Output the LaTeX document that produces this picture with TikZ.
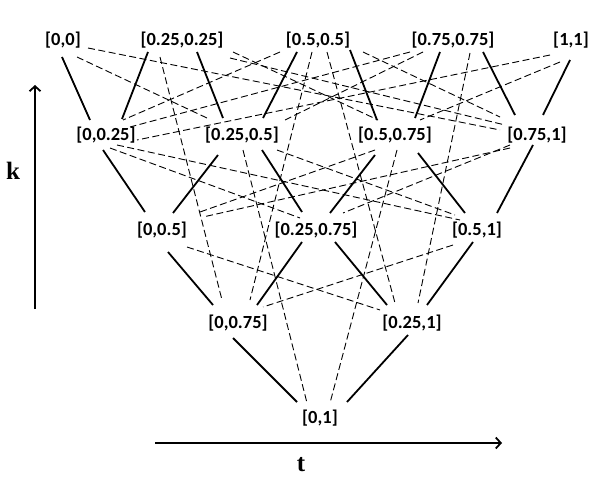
\documentclass[tikz,border=0pt]{standalone}
\usepackage{fontspec}
\setmainfont{Carlito}
\newfontfamily\serifbf{Liberation Serif}
\usetikzlibrary{arrows.meta}
\tikzset{
  lbl/.style={inner sep=0pt, font=\fontsize{18.5}{18.5}\selectfont\bfseries},
  kline/.style={line width=1.8pt},
  tline/.style={line width=0.9pt, dash pattern=on 7pt off 3.5pt},
  axis/.style={line width=1.8pt, -{Straight Barb[length=5pt,width=11pt,line width=1.8pt]}},
  axlbl/.style={font=\serifbf\fontsize{25}{25}\selectfont\bfseries}
}
\newcommand\lnk[5]{\draw[#1] ([shift={#3}]#2.center) -- ([shift={#5}]#4.center);}
\begin{document}
\begin{tikzpicture}[x=1pt,y=-1pt]
\useasboundingbox (0,0) rectangle (612,476);
% nodes
\node[lbl] (A) at (63,40) {[0,0]};
\node[lbl] (B) at (182,40) {[0.25,0.25]};
\node[lbl] (C) at (318,40) {[0.5,0.5]};
\node[lbl] (D) at (453,40) {[0.75,0.75]};
\node[lbl] (E) at (571,40) {[1,1]};
\node[lbl] (F) at (106,135) {[0,0.25]};
\node[lbl] (G) at (242,135) {[0.25,0.5]};
\node[lbl] (H) at (395,135) {[0.5,0.75]};
\node[lbl] (I) at (537,135) {[0.75,1]};
\node[lbl] (J) at (162,230) {[0,0.5]};
\node[lbl] (K) at (316,230) {[0.25,0.75]};
\node[lbl] (L) at (477,230) {[0.5,1]};
\node[lbl] (M) at (238,323) {[0,0.75]};
\node[lbl] (N) at (412,323) {[0.25,1]};
\node[lbl] (O) at (320,418) {[0,1]};
% solid (knowledge order)
\lnk{kline}{A}{(-1,17)}{F}{(-16,-15)}
\lnk{kline}{B}{(-34,12)}{F}{(16,-16)}
\lnk{kline}{B}{(15,12)}{G}{(-19,-17)}
\lnk{kline}{C}{(-21,12)}{G}{(21,-17)}
\lnk{kline}{C}{(32,10)}{H}{(-18,-15)}
\lnk{kline}{D}{(-13,12)}{H}{(20,-17)}
\lnk{kline}{D}{(30,12)}{I}{(-22,-20)}
\lnk{kline}{E}{(-1,20)}{I}{(6,-20)}
\lnk{kline}{F}{(-3,15)}{J}{(-17,-18)}
\lnk{kline}{G}{(-24,20)}{J}{(11,-17)}
\lnk{kline}{G}{(20,15)}{K}{(-14,-18)}
\lnk{kline}{H}{(-20,20)}{K}{(14,-17)}
\lnk{kline}{H}{(23,18)}{L}{(-12,-17)}
\lnk{kline}{I}{(-4,10)}{L}{(20,-17)}
\lnk{kline}{J}{(6,22)}{M}{(-25,-18)}
\lnk{kline}{K}{(-14,12)}{M}{(19,-18)}
\lnk{kline}{K}{(19,12)}{N}{(-25,-18)}
\lnk{kline}{L}{(-4,12)}{N}{(15,-18)}
\lnk{kline}{M}{(-5,15)}{O}{(-23,-16)}
\lnk{kline}{N}{(-4,12)}{O}{(27,-16)}
% dashed
\lnk{tline}{A}{(14,17)}{G}{(-35,-17)}
\lnk{tline}{A}{(25,8)}{I}{(-37,-5)}
\lnk{tline}{B}{(51,12)}{H}{(-17,-15)}
\lnk{tline}{B}{(48,18)}{I}{(-32,-10)}
\lnk{tline}{B}{(-22,17)}{M}{(-16,-23)}
\lnk{tline}{C}{(-38,12)}{F}{(17,-15)}
\lnk{tline}{C}{(45,12)}{I}{(-37,-18)}
\lnk{tline}{C}{(-6,12)}{M}{(12,-23)}
\lnk{tline}{C}{(9,12)}{N}{(-17,-20)}
\lnk{tline}{D}{(-30,12)}{G}{(43,-15)}
\lnk{tline}{D}{(-43,12)}{F}{(24,-8)}
\lnk{tline}{D}{(17,13)}{N}{(6,-20)}
\lnk{tline}{E}{(-21,15)}{F}{(31,5)}
\lnk{tline}{E}{(-11,22)}{H}{(25,-15)}
\lnk{tline}{F}{(4,13)}{K}{(-16,-12)}
\lnk{tline}{F}{(11,10)}{L}{(-17,-10)}
\lnk{tline}{G}{(35,15)}{L}{(-22,-15)}
\lnk{tline}{G}{(1,15)}{O}{(-13,-15)}
\lnk{tline}{H}{(-20,15)}{J}{(38,-18)}
\lnk{tline}{H}{(2,15)}{O}{(10,-15)}
\lnk{tline}{I}{(-27,13)}{J}{(41,-13)}
\lnk{tline}{I}{(-27,10)}{K}{(27,-17)}
\lnk{tline}{J}{(25,17)}{N}{(-32,-13)}
\lnk{tline}{L}{(-24,15)}{M}{(25,-16)}
% axes
\coordinate (kbot) at (35,309);
\coordinate (ktop) at (35,85);
\coordinate (tl) at (155,443);
\coordinate (tr) at (502,443);
\draw[axis] (kbot) -- (ktop);
\draw[axis] (tl) -- (tr);
\node[axlbl] (klab) at (13,171) {k};
\node[axlbl] (tlab) at (301,465) {t};
\end{tikzpicture}
\end{document}
